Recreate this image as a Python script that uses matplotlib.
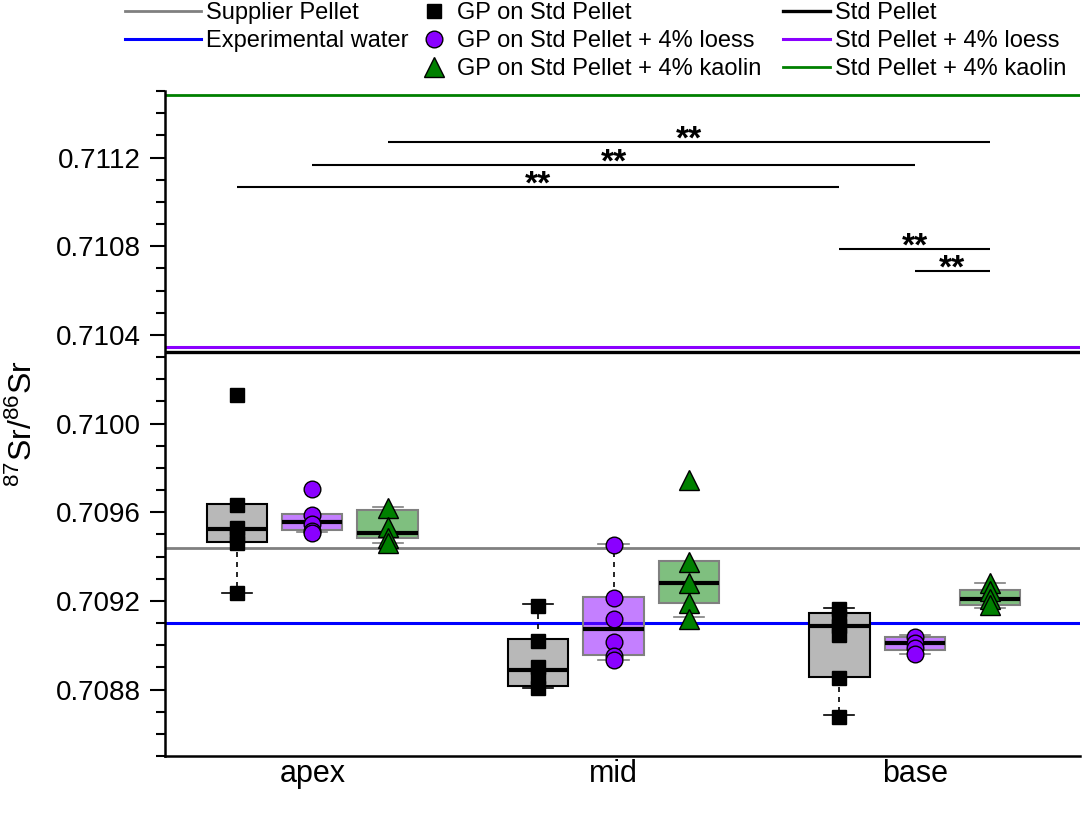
import numpy as np
import matplotlib.pyplot as plt
from matplotlib.ticker import MultipleLocator, FormatStrFormatter

plt.rcParams['font.family'] = ['Liberation Sans', 'DejaVu Sans']
plt.rcParams['mathtext.default'] = 'regular'

# ---- DATA ----
sections = ['apex', 'mid', 'base']
groups = ['GP on Std Pellet', 'GP on Std Pellet + 4% loess', 'GP on Std Pellet + 4% kaolin']

# individual measurements (apex, mid, base)
std_pts = [[0.71013, 0.709632, 0.709530, 0.709494, 0.709459, 0.709236],
           [0.709176, 0.709019, 0.708902, 0.708857, 0.708805],
           [0.709163, 0.709125, 0.709085, 0.709048, 0.70885, 0.708674]]
loess_pts = [[0.709704, 0.709587, 0.709546, 0.709515, 0.709506],
             [0.709451, 0.709211, 0.70912, 0.709015, 0.70895, 0.708932],
             [0.709035, 0.709012, 0.708985, 0.708958]]
kaolin_pts = [[0.709617, 0.709534, 0.709482, 0.709462],
              [0.709745, 0.709376, 0.709279, 0.709188, 0.70912],
              [0.709279, 0.709245, 0.70921, 0.70918]]

# box statistics (apex, mid, base)
std_q1 = [0.709466, 0.708815, 0.708857]
std_med = [0.709522, 0.708887, 0.709086]
std_q3 = [0.709635, 0.709026, 0.709146]
std_lo = [0.709236, 0.708805, 0.708684]
std_hi = [0.709635, 0.709185, 0.709168]

loess_q1 = [0.709519, 0.708955, 0.708977]
loess_med = [0.709554, 0.709075, 0.70901]
loess_q3 = [0.70959, 0.709218, 0.709037]
loess_lo = [0.709509, 0.708935, 0.708958]
loess_hi = [0.70959, 0.709455, 0.709045]

kaolin_q1 = [0.709482, 0.709188, 0.70918]
kaolin_med = [0.709504, 0.709279, 0.709208]
kaolin_q3 = [0.709609, 0.709379, 0.709248]
kaolin_lo = [0.709459, 0.709128, 0.709166]
kaolin_hi = [0.709624, 0.709379, 0.709281]

# reference values
ref_labels = ['Supplier Pellet', 'Experimental water', 'Std Pellet',
              'Std Pellet + 4% loess', 'Std Pellet + 4% kaolin']
ref_values = [0.70944, 0.709102, 0.710324, 0.710345, 0.711483]

# significance bars: (section, group) -> (section, group)
sig_start = [(0, 0), (0, 1), (0, 2), (2, 0), (2, 1)]
sig_end = [(2, 0), (2, 1), (2, 2), (2, 2), (2, 2)]
sig_y = [0.711066, 0.711167, 0.711268, 0.710788, 0.710688]
sig_text = ['**', '**', '**', '**', '**']

# ---- STYLE ----
PURPLE = '#8A00FF'
GREEN = '#008000'
marker_style = [dict(marker='s', color='black', ms=10),
                dict(marker='o', color=PURPLE, ms=12),
                dict(marker='^', color=GREEN, ms=14)]
box_face = ['#B8B8B8', (0.54, 0.0, 1.0, 0.5), (0.0, 0.5, 0.0, 0.5)]
box_edge = ['black', '#808080', '#808080']
ref_colors = ['#808080', '#0000FF', 'black', PURPLE, GREEN]
ref_widths = [2.0, 2.2, 2.4, 2.2, 2.0]


def pos(section, group):
    return 1 + 4 * section + group


fig = plt.figure(figsize=(10.84, 8.22), dpi=100)
ax = fig.add_axes([165 / 1084, 66 / 822, 915 / 1084, 665 / 822])

# reference lines
ref_handles = []
for val, col, lw in zip(ref_values, ref_colors, ref_widths):
    h = ax.axhline(val, color=col, lw=lw, zorder=1)
    ref_handles.append(h)

# boxes
all_pts = [std_pts, loess_pts, kaolin_pts]
all_stats = [(std_q1, std_med, std_q3, std_lo, std_hi),
             (loess_q1, loess_med, loess_q3, loess_lo, loess_hi),
             (kaolin_q1, kaolin_med, kaolin_q3, kaolin_lo, kaolin_hi)]

for g in range(3):
    q1, med, q3, lo, hi = all_stats[g]
    stats = [dict(q1=q1[s], med=med[s], q3=q3[s], whislo=lo[s], whishi=hi[s], fliers=[])
             for s in range(3)]
    bp = ax.bxp(stats, positions=[pos(s, g) for s in range(3)], widths=0.8,
                capwidths=0.4, patch_artist=True, showfliers=False,
                manage_ticks=False, zorder=3)
    for b in bp['boxes']:
        b.set_facecolor(box_face[g])
        b.set_edgecolor(box_edge[g])
        b.set_linewidth(1.5)
    for w in bp['whiskers']:
        w.set(color='black', linestyle=(0, (3, 3)), linewidth=1.2)
    for c in bp['caps']:
        c.set(color=box_edge[g], linewidth=1.2)
    for m in bp['medians']:
        m.set(color='black', linewidth=3)

# points
point_handles = []
for g in range(3):
    for s in range(3):
        vals = all_pts[g][s]
        h, = ax.plot(np.full(len(vals), pos(s, g)), vals, ls='none',
                     mec='black', mew=1, zorder=4, **marker_style[g])
    point_handles.append(h)

# significance bars
for (s0, g0), (s1, g1), y, t in zip(sig_start, sig_end, sig_y, sig_text):
    x0, x1 = pos(s0, g0), pos(s1, g1)
    ax.hlines(y, x0, x1, color='black', lw=1.5, zorder=2)
    ax.annotate(t, xy=((x0 + x1) / 2, y), xytext=(0, -4.5), textcoords='offset points',
                ha='center', va='baseline', fontsize=24, fontweight='bold')

# axes
ax.set_xlim(0.044, 12.195)
ax.set_ylim(0.7085, 0.7115)
ax.yaxis.set_major_locator(MultipleLocator(0.0004))
ax.yaxis.set_minor_locator(MultipleLocator(0.0001))
ax.yaxis.set_major_formatter(FormatStrFormatter('%.4f'))
ax.set_xticks([pos(s, 1) for s in range(3)])
ax.set_xticklabels(sections, fontsize=22)
ax.tick_params(axis='x', length=0, pad=2)
ax.tick_params(axis='y', which='major', length=11, width=1.5, labelsize=20, pad=6.5)
ax.tick_params(axis='y', which='minor', length=6.7, width=1.5)
for sp in ['top', 'right']:
    ax.spines[sp].set_visible(False)
for sp in ['left', 'bottom']:
    ax.spines[sp].set_linewidth(1.8)
ax.set_ylabel('$^{87}$Sr/$^{86}$Sr', fontsize=23)
ax.yaxis.set_label_coords(-0.1377, 0.5)

# legends
common = dict(loc='upper left', frameon=False, borderpad=0, borderaxespad=0,
              labelspacing=0.25, fontsize=17)
fig.legend(handles=ref_handles[:2], labels=ref_labels[:2],
           bbox_to_anchor=(125 / 1084, 0.997), handlelength=3.2,
           handletextpad=0.25, **common)
fig.legend(handles=point_handles, labels=groups,
           bbox_to_anchor=(422 / 1084, 0.997), handlelength=1.0,
           handletextpad=0.5, **common)
fig.legend(handles=ref_handles[2:], labels=ref_labels[2:],
           bbox_to_anchor=(783 / 1084, 0.997), handlelength=2.0,
           handletextpad=0.21, **common)

fig.savefig('out.png', dpi=100)
